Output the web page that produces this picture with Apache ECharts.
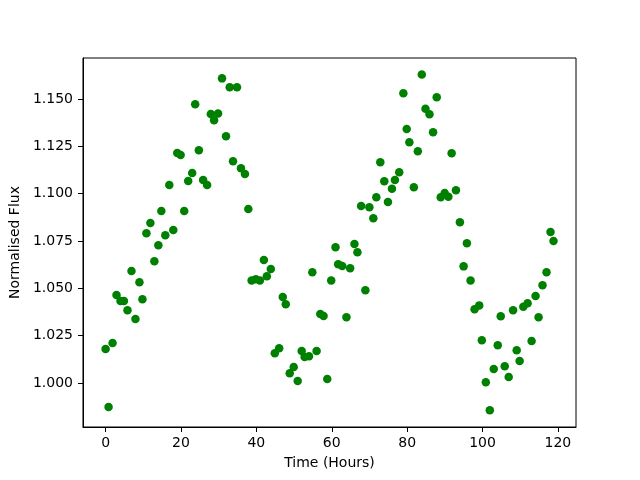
<!DOCTYPE html>
<html>
<head>
<meta charset="utf-8">
<script src="https://cdn.jsdelivr.net/npm/echarts@6/dist/echarts.min.js"></script>
<style>html,body{margin:0;padding:0;background:#fff;}#c{width:640px;height:480px;}</style>
</head>
<body>
<div id="c"></div>
<script>
const timeHours = [0.0,0.79,1.85,2.90,3.96,4.86,5.81,6.87,7.92,8.98,9.77,10.83,11.88,12.94,14.0,14.79,15.84,16.90,17.96,19.01,
19.91,20.86,21.92,22.97,23.77,24.74,25.88,26.93,27.91,28.78,29.84,30.89,31.95,32.93,33.80,34.86,35.91,36.97,37.87,38.74,
39.87,40.93,41.99,42.78,43.83,44.89,46.05,47.00,47.80,48.85,49.91,50.96,52.02,52.81,53.97,54.85,55.98,56.96,57.83,58.81,
59.86,61.0,61.71,62.77,63.90,64.88,66.02,66.81,67.79,68.92,69.98,71.03,71.82,72.88,73.94,74.91,75.97,76.76,77.90,79.0,
79.88,80.59,81.78,82.84,83.89,84.87,85.93,86.88,87.85,88.91,89.96,90.94,91.81,92.95,94.0,94.98,95.85,96.83,97.89,99.13,
99.82,100.87,101.93,102.98,104.04,104.83,105.89,106.95,108.11,109.06,109.85,110.83,111.96,113.02,114.07,114.87,115.92,116.98,118.04,118.83];
const normalisedFlux = [1.0180,0.9873,1.0211,1.0465,1.0433,1.0433,1.0384,1.0592,1.0338,1.0532,1.0442,1.0791,1.0845,1.0643,1.0727,1.0908,1.0780,1.1046,1.0808,1.1215,
1.1204,1.0908,1.1067,1.1109,1.1472,1.1229,1.1072,1.1046,1.1421,1.1388,1.1424,1.1609,1.1303,1.1562,1.1171,1.1562,1.1134,1.1104,1.0919,1.0542,
1.0548,1.0542,1.0650,1.0564,1.0602,1.0157,1.0183,1.0454,1.0416,1.0051,1.0085,1.0011,1.0169,1.0137,1.0141,1.0585,1.0169,1.0364,1.0354,1.0021,
1.0542,1.0717,1.0627,1.0618,1.0347,1.0606,1.0734,1.0690,1.0935,1.0490,1.0928,1.0870,1.0981,1.1166,1.1065,1.0956,1.1026,1.1072,1.1113,1.1530,
1.1342,1.1271,1.1034,1.1224,1.1630,1.1449,1.1419,1.1324,1.1509,1.0981,1.1004,1.0984,1.1213,1.1018,1.0849,1.0616,1.0738,1.0542,1.0389,1.0410,
1.0226,1.0004,0.9856,1.0074,1.0199,1.0352,1.0088,1.0032,1.0384,1.0173,1.0116,1.0403,1.0421,1.0222,1.0460,1.0347,1.0516,1.0585,1.0798,1.0750];
const xTicks = [0,20,40,60,80,100,120];
const yTicks = [1.000,1.025,1.050,1.075,1.100,1.125,1.150];

const points = timeHours.map((t,i)=>[t, normalisedFlux[i]]);
const font = 'DejaVu Sans';
const chart = echarts.init(document.getElementById('c'), null, {renderer:'canvas'});
chart.setOption({
  animation:false,
  backgroundColor:'#fff',
  grid:{left:80,right:64,top:58,bottom:53,show:true,borderColor:'#000',borderWidth:1,backgroundColor:'transparent'},
  xAxis:{type:'value',min:-6.0,max:124.8,
    name:'Time (Hours)',nameLocation:'middle',nameGap:29,
    nameTextStyle:{fontFamily:font,fontSize:14,color:'#000'},
    axisLine:{show:true,onZero:false,lineStyle:{color:'#000',width:1}},
    axisTick:{show:true,inside:false,length:5,customValues:xTicks,lineStyle:{color:'#000',width:1}},
    axisLabel:{customValues:xTicks,margin:9,fontFamily:font,fontSize:14,color:'#000'},
    splitLine:{show:false}},
  yAxis:{type:'value',min:0.97676,max:1.17166,
    name:'Normalised Flux',nameLocation:'middle',nameGap:55,
    nameTextStyle:{fontFamily:font,fontSize:14,color:'#000'},
    axisLine:{show:true,onZero:false,lineStyle:{color:'#000',width:1}},
    axisTick:{show:true,inside:false,length:5,customValues:yTicks,lineStyle:{color:'#000',width:1}},
    axisLabel:{customValues:yTicks,margin:10,fontFamily:font,fontSize:14,color:'#000',formatter:v=>v.toFixed(3)},
    splitLine:{show:false}},
  series:[{type:'scatter',data:points,symbol:'circle',symbolSize:8.5,
    itemStyle:{color:'#008000',opacity:1}}]
});
</script>
</body>
</html>
